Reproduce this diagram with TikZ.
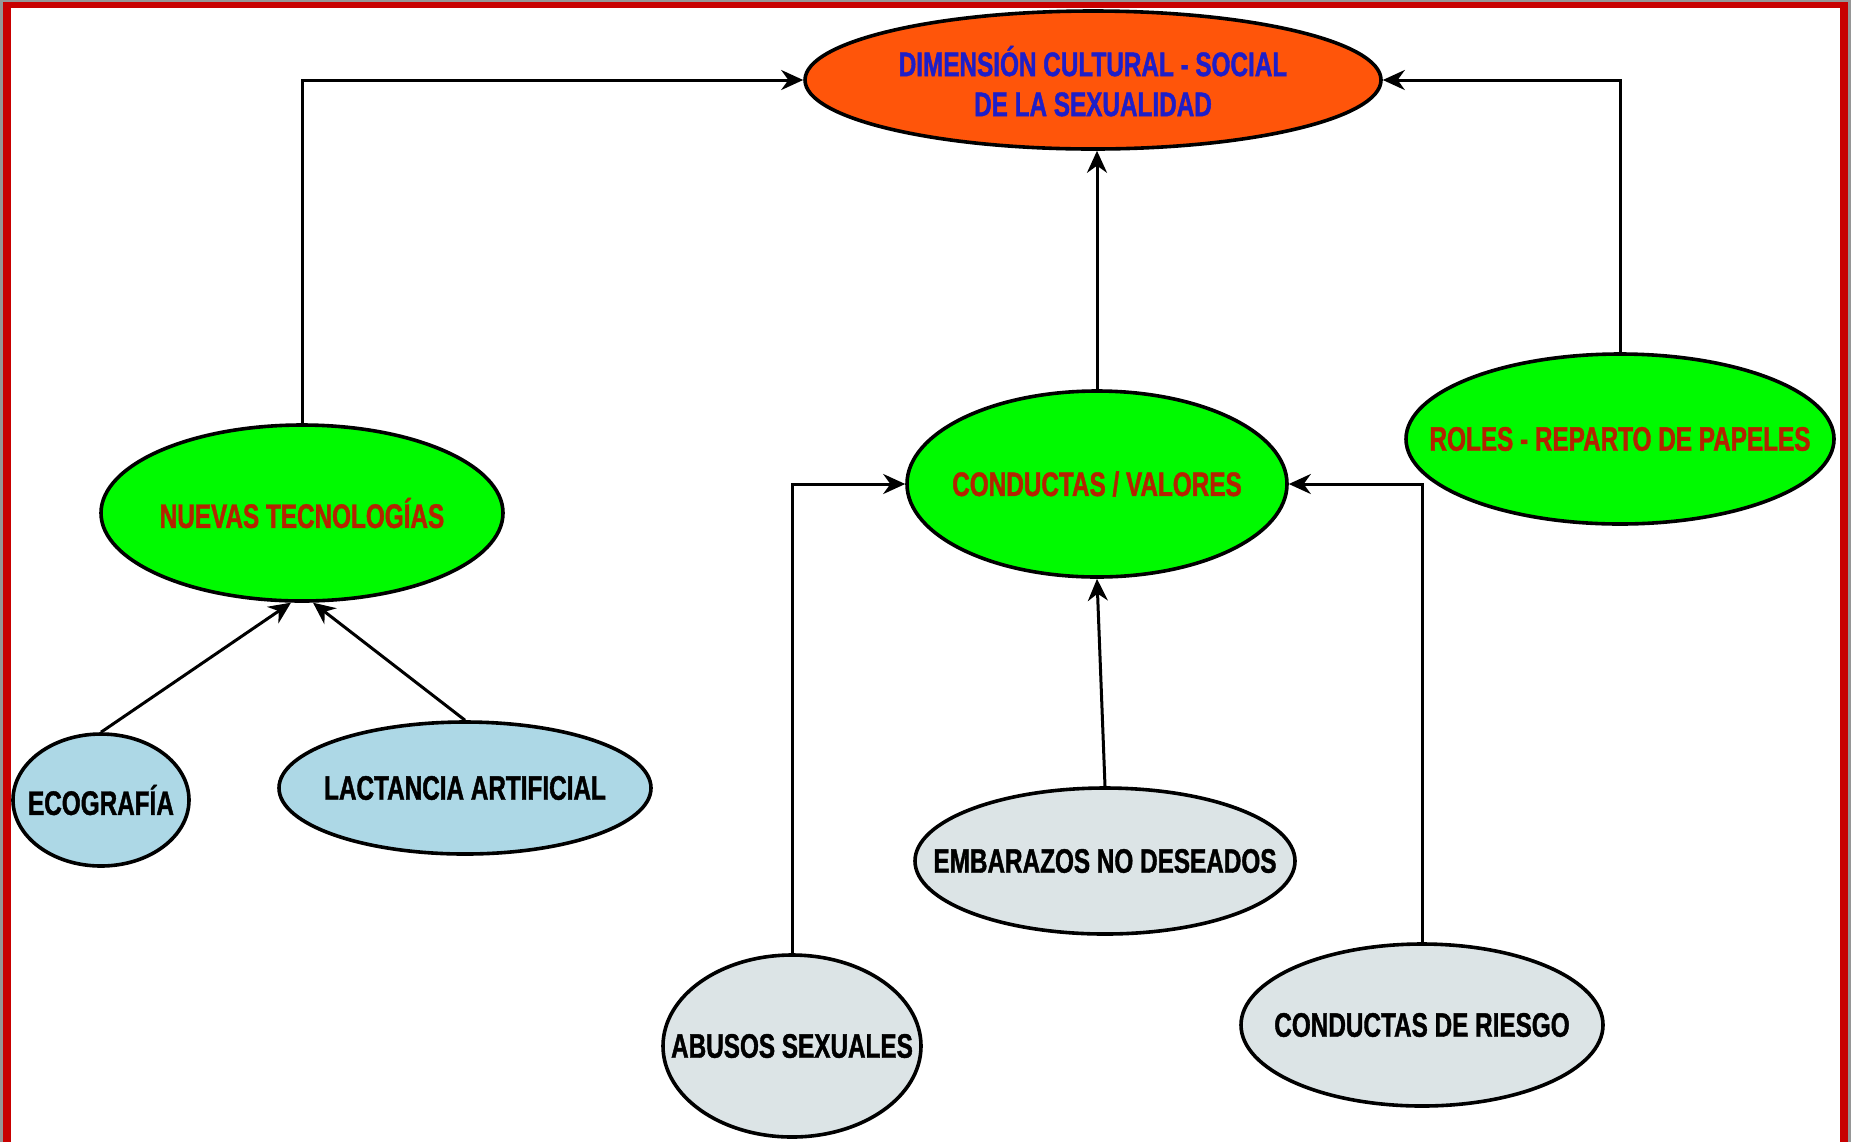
\documentclass[tikz,border=0pt]{standalone}
\usepackage{fontspec}
\usepackage{xcolor}
\usepackage{tikz}
\newfontfamily\mapfont[FakeStretch=0.715, BoldFeatures={FakeBold=1.2}]{Liberation Sans}
\definecolor{framered}{RGB}{200, 0, 0}
\definecolor{framegray}{RGB}{150, 150, 150}
\definecolor{toporange}{RGB}{255, 85, 10}
\definecolor{topblue}{RGB}{30, 30, 200}
\definecolor{brightgreen}{RGB}{0, 250, 0}
\definecolor{darkred}{RGB}{180, 35, 0}
\definecolor{paleblue}{RGB}{173, 216, 230}
\definecolor{palegray}{RGB}{220, 228, 230}
\usetikzlibrary{shapes.geometric, arrows.meta, calc}

\newcommand{\ovaltext}[1]{\makebox[0pt]{#1}}

\begin{document}
\begin{tikzpicture}[
    x=0.5pt, y=-0.5pt,
    every node/.style={font=\mapfont\bfseries\fontsize{17}{19}\selectfont},
    ovalbox/.style={ellipse, draw=black, line width=1.8pt, inner sep=0pt},
    topbox/.style={ovalbox, fill=toporange, text=topblue},
    greenbox/.style={ovalbox, fill=brightgreen, text=darkred},
    bluebox/.style={ovalbox, fill=paleblue, text=black},
    graybox/.style={ovalbox, fill=palegray, text=black},
    link/.style={-{Stealth[length=11pt, width=10pt]}, line width=1.5pt, black}
]
    % Frame
    \fill[framegray] (0,0) rectangle (1851,1142);
    \fill[framered] (3,2) rectangle (1848,1142);
    \fill[white] (11,8) rectangle (1840,1142);

    % Top node
    \node[topbox, minimum width=288pt, minimum height=69pt] (dim) at (1093,80)
        {\ovaltext{\raisebox{0pt}[\dimexpr\height+7pt][\depth]{\fontsize{17}{20}\selectfont
         \begin{tabular}{@{}c@{}}DIMENSIÓN CULTURAL - SOCIAL\\DE LA SEXUALIDAD\end{tabular}}}};

    % Middle row
    \node[greenbox, minimum width=201pt, minimum height=88pt] (nuevas) at (302,513)
        {\ovaltext{NUEVAS TECNOLOGÍAS}};
    \node[greenbox, minimum width=190pt, minimum height=93pt] (conductas) at (1097,484)
        {\ovaltext{CONDUCTAS / VALORES}};
    \node[greenbox, minimum width=214pt, minimum height=85pt] (roles) at (1620,439)
        {\ovaltext{ROLES - REPARTO DE PAPELES}};

    % Lower nodes
    \node[bluebox, minimum width=88pt, minimum height=66pt] (ecografia) at (101,800)
        {\ovaltext{ECOGRAFÍA}};
    \node[bluebox, minimum width=186pt, minimum height=66pt] (lactancia) at (465,788)
        {\ovaltext{LACTANCIA ARTIFICIAL}};
    \node[graybox, minimum width=190pt, minimum height=73pt] (embarazos) at (1105,861)
        {\ovaltext{EMBARAZOS NO DESEADOS}};
    \node[graybox, minimum width=129pt, minimum height=91pt] (abusos) at (792,1046)
        {\ovaltext{ABUSOS SEXUALES}};
    \node[graybox, minimum width=181pt, minimum height=81pt] (riesgo) at (1422,1025)
        {\ovaltext{CONDUCTAS DE RIESGO}};

    % Connecting arrows
    \draw[link] (nuevas.north) |- (dim.west);
    \draw[link] (roles.north) |- (dim.east);
    \draw[link] (conductas.north) -- (conductas.north |- dim.south);
    \draw[link] (abusos.north) |- (conductas.west);
    \draw[link] (riesgo.north) |- (conductas.east);
    \draw[link] (embarazos.north) -- (conductas.south);
    \draw[link] (ecografia.north) -- (nuevas.263);
    \draw[link] (lactancia.north) -- (nuevas.277);
\end{tikzpicture}
\end{document}
